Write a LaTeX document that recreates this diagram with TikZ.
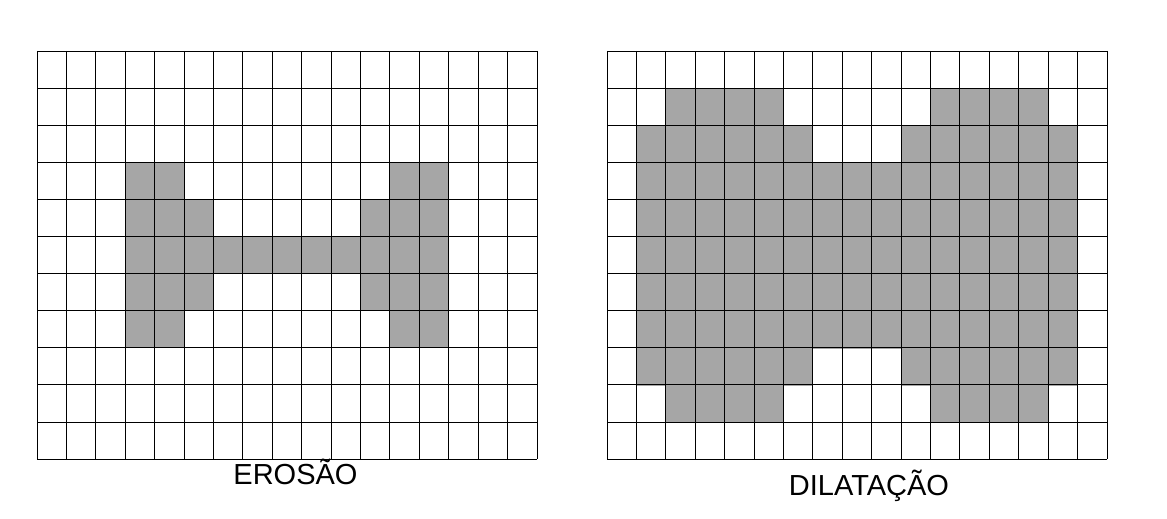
\documentclass[tikz,border=0pt]{standalone}
\usepackage{fontspec}
\setmainfont{Liberation Sans}
\usetikzlibrary{positioning}

\definecolor{pixgray}{HTML}{A6A6A6}
\tikzset{
  pixel/.style={fill=pixgray},
  gridline/.style={line width=0.9pt},
  caption/.style={anchor=base, inner sep=0pt, font=\fontsize{29}{32}\selectfont}
}

\begin{document}
\begin{tikzpicture}[x=1pt, y=-1pt]
\useasboundingbox (0,0) rectangle (1167,519);

% cell size
\def\cw{29.41}
\def\ch{37.1}

% erosion, row/first col/last col
\foreach \r/\a/\b in {3/3/4, 3/12/13, 4/3/5, 4/11/13, 5/3/13, 6/3/5, 6/11/13, 7/3/4, 7/12/13}
  \fill[pixel] (37+\a*\cw, 51+\r*\ch) rectangle (37+\b*\cw+\cw, 51+\r*\ch+\ch);

% dilation
\foreach \r/\a/\b in {1/2/5, 1/11/14, 2/1/6, 2/10/15, 3/1/15, 4/1/15, 5/1/15, 6/1/15, 7/1/15, 8/1/6, 8/10/15, 9/2/5, 9/11/14}
  \fill[pixel] (607+\a*\cw, 52+\r*\ch) rectangle (607+\b*\cw+\cw, 52+\r*\ch+\ch);

% grids
\foreach \x in {37, 607} {
  \foreach \i in {0,...,17}
    \draw[gridline] (\x+\i*\cw, 51) -- (\x+\i*\cw, 459);
  \foreach \j in {0,...,11}
    \draw[gridline] (\x, 51+\j*\ch) -- (\x+17*\cw, 51+\j*\ch);
}

\node[caption] (erosao) at (295.5,484) {EROSÃO};
\node[caption] (dilatacao) at (869,495) {DILATAÇÃO};

\end{tikzpicture}
\end{document}
